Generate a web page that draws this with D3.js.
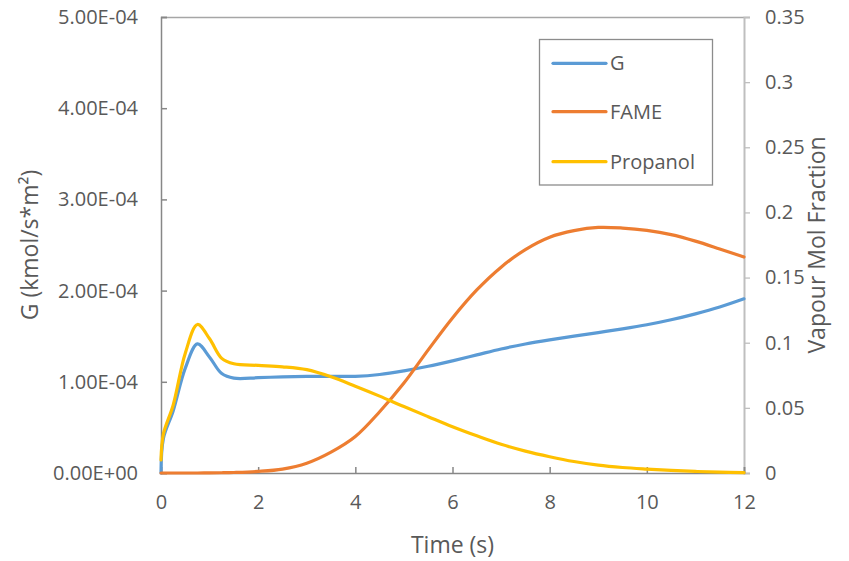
<!DOCTYPE html>
<html>
<head>
<meta charset="utf-8">
<script src="https://cdn.jsdelivr.net/npm/d3@7"></script>
<style>
  html, body { margin: 0; padding: 0; background: #fff; }
  svg { display: block; }
  text { font-family: "Open Sans", "Noto Sans", sans-serif; fill: #595959; }
</style>
</head>
<body>
<svg id="chart" width="849" height="561"></svg>
<script>
// Time grid (s) shared by all series
const time = [0, 0.05, 0.25, 0.5, 0.75, 1, 1.25, 1.5, 2, 2.5, 3, 3.5, 4, 4.5, 5, 5.5, 6, 6.5, 7, 7.5, 8, 8.5, 9, 9.5, 10, 10.5, 11, 11.5, 12];

// Mass flux G (kmol/s*m2), primary axis
const gFlux = [0, 0.38e-4, 0.68e-4, 1.15e-4, 1.415e-4, 1.27e-4, 1.09e-4, 1.04e-4, 1.045e-4, 1.055e-4, 1.06e-4, 1.06e-4, 1.06e-4, 1.08e-4, 1.12e-4, 1.17e-4, 1.23e-4, 1.295e-4, 1.36e-4, 1.415e-4, 1.46e-4, 1.50e-4, 1.54e-4, 1.58e-4, 1.625e-4, 1.68e-4, 1.745e-4, 1.82e-4, 1.91e-4];

// Vapour mole fractions, secondary axis
const fame = [0, 0, 0, 0, 0, 0.0001, 0.0002, 0.0004, 0.0012, 0.003, 0.0075, 0.016, 0.028, 0.047, 0.069, 0.0945, 0.119, 0.1405, 0.158, 0.1715, 0.181, 0.186, 0.1885, 0.188, 0.1862, 0.183, 0.178, 0.172, 0.1658];
const propanol = [0.010, 0.030, 0.052, 0.092, 0.114, 0.103, 0.088, 0.0838, 0.0826, 0.0815, 0.0793, 0.0738, 0.0666, 0.059, 0.051, 0.0432, 0.0355, 0.0285, 0.022, 0.0168, 0.0125, 0.0088, 0.006, 0.0042, 0.003, 0.002, 0.0012, 0.0006, 0.0003];

// Tick values
const xTicks = [0, 2, 4, 6, 8, 10, 12];
const yLeftTicks = [0, 1e-4, 2e-4, 3e-4, 4e-4, 5e-4];
const yRightTicks = [0, 0.05, 0.1, 0.15, 0.2, 0.25, 0.3, 0.35];

const seriesNames = ["G", "FAME", "Propanol"];
const seriesColors = ["#5B9BD5", "#ED7D31", "#FFC000"];

const svg = d3.select("#chart");
const m = { left: 161, right: 744, top: 17, bottom: 473 };
const tickFont = 20;
const titleFont = 23;

const x = d3.scaleLinear().domain([0, 12]).range([m.left, m.right]);
const yL = d3.scaleLinear().domain([0, 5e-4]).range([m.bottom, m.top]);
const yR = d3.scaleLinear().domain([0, 0.35]).range([m.bottom, m.top]);

// Scientific label with two-digit exponent, e.g. 1.00E-04
function sci(v) {
  if (v === 0) return "0.00E+00";
  const [mant, ex] = v.toExponential(2).split("e");
  const n = +ex;
  return mant + "E" + (n < 0 ? "-" : "+") + String(Math.abs(n)).padStart(2, "0");
}

// Top border of plot area
svg.append("line")
  .attr("x1", m.left).attr("x2", m.right)
  .attr("y1", m.top + 0.5).attr("y2", m.top + 0.5)
  .attr("stroke", "#a6a6a6").attr("stroke-width", 1.3);

function styleText(sel) {
  sel.selectAll("text").attr("font-size", tickFont).attr("fill", "#595959")
    .style("font-family", "'Open Sans', sans-serif");
}

// Right (secondary) axis
const axR = svg.append("g").attr("transform", `translate(${m.right},0)`)
  .call(d3.axisRight(yR).tickValues(yRightTicks).tickSize(6).tickPadding(15)
        .tickFormat(d => d3.format("")(+d.toFixed(2))));
axR.select(".domain").attr("stroke", "#bfbfbf").attr("stroke-width", 2);
axR.selectAll(".tick line").attr("stroke", "#bfbfbf").attr("stroke-width", 1.3);
styleText(axR);

// Left (primary) axis, ticks pointing inward
const axL = svg.append("g").attr("transform", `translate(${m.left},0)`)
  .call(d3.axisLeft(yL).tickValues(yLeftTicks).tickSize(-6).tickPadding(23).tickFormat(sci));
axL.select(".domain").attr("stroke", "#878787").attr("stroke-width", 1.5);
axL.selectAll(".tick line").attr("stroke", "#878787").attr("stroke-width", 1.5);
styleText(axL);

// Bottom axis, ticks pointing inward
const axB = svg.append("g").attr("transform", `translate(0,${m.bottom})`)
  .call(d3.axisBottom(x).tickValues(xTicks).tickSize(-6).tickPadding(20).tickFormat(d3.format("d")));
axB.select(".domain").attr("stroke", "#878787").attr("stroke-width", 1.5);
axB.selectAll(".tick line").attr("stroke", "#878787").attr("stroke-width", 1.5);
styleText(axB);
axB.selectAll("text").attr("y", 22);

// Series lines
const lineL = d3.line().x((d, i) => x(time[i])).y(d => yL(d)).curve(d3.curveCatmullRom.alpha(0.5));
const lineR = d3.line().x((d, i) => x(time[i])).y(d => yR(d)).curve(d3.curveCatmullRom.alpha(0.5));

const plot = svg.append("g").attr("fill", "none").attr("stroke-width", 3.2)
  .attr("stroke-linecap", "round").attr("stroke-linejoin", "round");
plot.append("path").attr("d", lineL(gFlux)).attr("stroke", seriesColors[0]);
plot.append("path").attr("d", lineR(fame)).attr("stroke", seriesColors[1]);
plot.append("path").attr("d", lineR(propanol)).attr("stroke", seriesColors[2]);

// Axis titles
svg.append("text").attr("transform", `translate(38,${(m.top + m.bottom) / 2}) rotate(-90)`)
  .attr("text-anchor", "middle").attr("font-size", titleFont)
  .text("G (kmol/s*m²)");
svg.append("text").attr("transform", `translate(825,${(m.top + m.bottom) / 2}) rotate(-90)`)
  .attr("text-anchor", "middle").attr("font-size", titleFont)
  .text("Vapour Mol Fraction");
svg.append("text").attr("x", (m.left + m.right) / 2).attr("y", 553)
  .attr("text-anchor", "middle").attr("font-size", titleFont)
  .text("Time (s)");

// Legend
const lg = svg.append("g");
lg.append("rect").attr("x", 539.5).attr("y", 39.5).attr("width", 173).attr("height", 145.5)
  .attr("fill", "#fff").attr("stroke", "#8c8c8c").attr("stroke-width", 1.3);
const legendY = [63.3, 111.7, 161.7];
seriesNames.forEach((name, i) => {
  lg.append("line").attr("x1", 553).attr("x2", 606)
    .attr("y1", legendY[i]).attr("y2", legendY[i])
    .attr("stroke", seriesColors[i]).attr("stroke-width", 3.2).attr("stroke-linecap", "round");
  lg.append("text").attr("x", 610).attr("y", legendY[i]).attr("dy", "0.35em")
    .attr("font-size", tickFont).text(name);
});
</script>
</body>
</html>
